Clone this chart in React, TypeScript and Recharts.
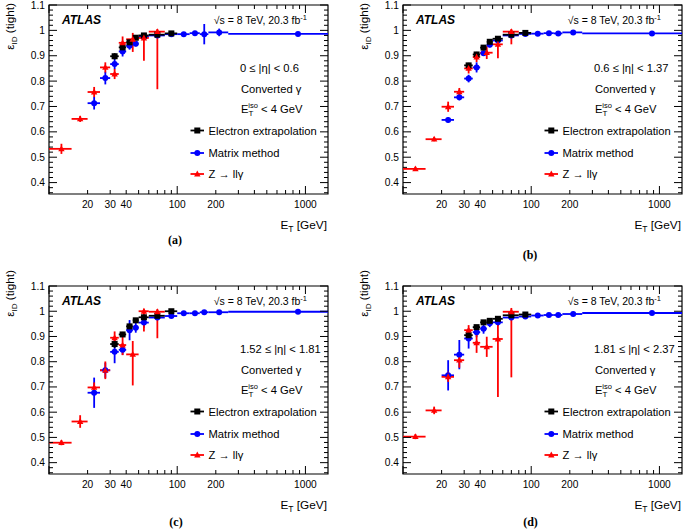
import React from 'react';
import { ScatterChart, Scatter, XAxis, YAxis, ErrorBar, ReferenceArea, Legend } from 'recharts';

const SANS = '"Liberation Sans", Arial, Helvetica, sans-serif';
const SERIF = '"Liberation Serif", "Times New Roman", serif';

const X_MIN = 10;
const X_MAX = 1500;
const Y_MIN = 0.355;
const Y_MAX = 1.1;

// axis ticks
const xTicks = [10, 20, 30, 40, 50, 60, 70, 80, 90, 100, 200, 300, 400, 500, 600, 700, 800, 900, 1000];
const xTickLabels = [20, 30, 40, 100, 200, 1000];
const xDecades = [10, 100, 1000];
const yMajorTicks = [0.4, 0.5, 0.6, 0.7, 0.8, 0.9, 1, 1.1];
const yMinorStep = 0.02;

// E_T bin edges (GeV)
const zBinLo = [10, 15, 20, 25, 30, 35, 40, 50, 60];
const zBinHi = [15, 20, 25, 30, 35, 40, 50, 60, 80];
const mmBinLo = [20, 25, 30, 35, 40, 45, 50, 60, 80, 100, 125, 150, 175, 250];
const mmBinHi = [25, 30, 35, 40, 45, 50, 60, 80, 100, 125, 150, 175, 250, 1500];
const eeBinLo = [30, 35, 40, 45, 50, 60, 80];
const eeBinHi = [35, 40, 45, 50, 60, 80, 100];

// (a) 0 <= |eta| < 0.6
const aZ = [0.533, 0.651, 0.757, 0.854, 0.828, 0.951, 0.965, 0.97, 0.995];
const aZDn = [0.02, 0.012, 0.02, 0.02, 0.02, 0.025, 0.05, 0.09, 0.227];
const aZUp = [0.02, 0.012, 0.02, 0.02, 0.02, 0.025, 0.025, 0.02, 0.01];
const aMM = [0.713, 0.812, 0.867, 0.917, 0.939, 0.947, 0.975, 0.98, 0.985, 0.985, 0.989, 0.985, 0.992, 0.986];
const aMMErr = [0.025, 0.025, 0.02, 0.02, 0.015, 0.01, 0.01, 0.01, 0.005, 0.005, 0.005, 0.04, 0.015, 0.006];
const aEE = [0.898, 0.933, 0.953, 0.971, 0.98, 0.983, 0.988];
const aEEErr = [0.012, 0.01, 0.008, 0.006, 0.005, 0.005, 0.004];

// (b) 0.6 <= |eta| < 1.37
const bZ = [0.454, 0.571, 0.699, 0.758, 0.85, 0.895, 0.912, 0.945, 0.995];
const bZDn = [0.008, 0.008, 0.02, 0.015, 0.02, 0.02, 0.025, 0.055, 0.05];
const bZUp = [0.008, 0.008, 0.02, 0.015, 0.02, 0.02, 0.025, 0.02, 0.01];
const bMM = [0.647, 0.736, 0.81, 0.854, 0.91, 0.943, 0.96, 0.98, 0.986, 0.987, 0.989, 0.988, 0.992, 0.988];
const bMMErr = [0.01, 0.012, 0.015, 0.02, 0.01, 0.01, 0.008, 0.006, 0.005, 0.005, 0.005, 0.005, 0.006, 0.005];
const bEE = [0.862, 0.905, 0.932, 0.955, 0.967, 0.983, 0.99];
const bEEErr = [0.01, 0.01, 0.008, 0.006, 0.005, 0.005, 0.004];

// (c) 1.52 <= |eta| < 1.81
const cZ = [0.479, 0.563, 0.698, 0.766, 0.895, 0.866, 0.829, 1.0, 0.998];
const cZDn = [0.01, 0.025, 0.02, 0.035, 0.025, 0.04, 0.123, 0.08, 0.105];
const cZUp = [0.01, 0.025, 0.02, 0.035, 0.025, 0.04, 0.053, 0.01, 0.01];
const cMM = [0.677, 0.766, 0.839, 0.847, 0.925, 0.935, 0.955, 0.975, 0.981, 0.992, 0.992, 0.996, 0.996, 0.998];
const cMMErr = [0.06, 0.03, 0.045, 0.02, 0.04, 0.02, 0.02, 0.01, 0.008, 0.005, 0.005, 0.005, 0.005, 0.005];
const cEE = [0.87, 0.908, 0.94, 0.964, 0.976, 0.982, 1.0];
const cEEErr = [0.015, 0.01, 0.01, 0.008, 0.006, 0.005, 0.005];

// (d) 1.81 <= |eta| < 2.37
const dZ = [0.503, 0.607, 0.74, 0.806, 0.925, 0.875, 0.859, 0.89, 0.998];
const dZDn = [0.01, 0.015, 0.02, 0.03, 0.02, 0.04, 0.04, 0.23, 0.26];
const dZUp = [0.01, 0.015, 0.02, 0.03, 0.02, 0.04, 0.04, 0.09, 0.015];
const dMM = [0.746, 0.828, 0.892, 0.917, 0.931, 0.952, 0.956, 0.975, 0.979, 0.983, 0.985, 0.985, 0.989, 0.993];
const dMMErr = [0.06, 0.058, 0.04, 0.02, 0.02, 0.015, 0.015, 0.01, 0.006, 0.005, 0.005, 0.005, 0.005, 0.005];
const dEE = [0.905, 0.937, 0.956, 0.962, 0.97, 0.984, 0.987];
const dEEErr = [0.01, 0.008, 0.006, 0.006, 0.005, 0.005, 0.004];

const COL_EE = '#000000';
const COL_MM = '#0000ff';
const COL_Z = '#ff0000';
const ERR_W = 1.8;

type Pt = { x: number; y: number; ex: number[]; ey: number[] };

function buildPoints(lo: number[], hi: number[], val: number[], dn: number[], up: number[]): Pt[] {
  return val.map((v, i) => {
    const c = (lo[i] + hi[i]) / 2;
    return { x: c, y: v, ex: [c - lo[i], hi[i] - c], ey: [dn[i], up[i]] };
  });
}

const yAllTicks: number[] = (() => {
  const out: number[] = [];
  for (let k = 18; k <= 55; k++) out.push(Math.round(k * yMinorStep * 1000) / 1000);
  return out;
})();

const panels = [
  {
    id: 'a', left: 0, top: 0, W: 345, H: 262, pl: 49, pt: 5, pw: 279, ph: 189, yTitleTop: 3,
    eta: '0 ≤ |η| < 0.6', caption: '(a)', capX: 175, capY: 243.5,
    z: buildPoints(zBinLo, zBinHi, aZ, aZDn, aZUp),
    mm: buildPoints(mmBinLo, mmBinHi, aMM, aMMErr, aMMErr),
    ee: buildPoints(eeBinLo, eeBinHi, aEE, aEEErr, aEEErr),
  },
  {
    id: 'b', left: 340, top: 0, W: 345, H: 262, pl: 63, pt: 5, pw: 279, ph: 189, yTitleTop: 3,
    eta: '0.6 ≤ |η| < 1.37', caption: '(b)', capX: 190, capY: 259,
    z: buildPoints(zBinLo, zBinHi, bZ, bZDn, bZUp),
    mm: buildPoints(mmBinLo, mmBinHi, bMM, bMMErr, bMMErr),
    ee: buildPoints(eeBinLo, eeBinHi, bEE, bEEErr, bEEErr),
  },
  {
    id: 'c', left: 0, top: 266, W: 345, H: 263, pl: 49, pt: 20, pw: 279, ph: 188, yTitleTop: 4,
    eta: '1.52 ≤ |η| < 1.81', caption: '(c)', capX: 176, capY: 259.5,
    z: buildPoints(zBinLo, zBinHi, cZ, cZDn, cZUp),
    mm: buildPoints(mmBinLo, mmBinHi, cMM, cMMErr, cMMErr),
    ee: buildPoints(eeBinLo, eeBinHi, cEE, cEEErr, cEEErr),
  },
  {
    id: 'd', left: 340, top: 266, W: 345, H: 263, pl: 63, pt: 20, pw: 279, ph: 188, yTitleTop: 4,
    eta: '1.81 ≤ |η| < 2.37', caption: '(d)', capX: 190.5, capY: 260,
    z: buildPoints(zBinLo, zBinHi, dZ, dZDn, dZUp),
    mm: buildPoints(mmBinLo, mmBinHi, dMM, dMMErr, dMMErr),
    ee: buildPoints(eeBinLo, eeBinHi, dEE, dEEErr, dEEErr),
  },
];

const SquareShape = (props: any) => (
  <rect x={props.cx - 3} y={props.cy - 3} width={6} height={6} fill={COL_EE} />
);
const CircleShape = (props: any) => <circle cx={props.cx} cy={props.cy} r={3} fill={COL_MM} />;
const TriangleShape = (props: any) => (
  <polygon
    points={`${props.cx},${props.cy - 3.4} ${props.cx - 3.2},${props.cy + 2.4} ${props.cx + 3.2},${props.cy + 2.4}`}
    fill={COL_Z}
  />
);

function LegendBox() {
  const rows = [
    { label: 'Electron extrapolation', color: COL_EE, kind: 'sq', y: 10.5 },
    { label: 'Matrix method', color: COL_MM, kind: 'ci', y: 33 },
    { label: 'Z → llγ', color: COL_Z, kind: 'tr', y: 54 },
  ];
  return (
    <svg width={170} height={66} style={{ display: 'block' }}>
      {rows.map((r) => (
        <g key={r.label}>
          <line x1={1.5} x2={15} y1={r.y} y2={r.y} stroke={r.color} strokeWidth={ERR_W} />
          {r.kind === 'sq' && <SquareShape cx={8.3} cy={r.y} />}
          {r.kind === 'ci' && <CircleShape cx={8.3} cy={r.y} />}
          {r.kind === 'tr' && <TriangleShape cx={8.3} cy={r.y} />}
          <text x={19.5} y={r.y + 4} fontFamily={SANS} fontSize={11.2} fill="#000">
            {r.label}
          </text>
        </g>
      ))}
    </svg>
  );
}

function Panel({ p }: { p: (typeof panels)[number] }) {
  const pr = p.pl + p.pw;
  const pb = p.pt + p.ph;
  const xAxisH = p.H - pb;

  const renderXTick = (props: any) => {
    const x = props.x;
    const v = props.payload.value;
    const len = xDecades.includes(v) ? 8 : 4;
    const lab = xTickLabels.includes(v);
    return (
      <g>
        <line x1={x} x2={x} y1={pb} y2={pb - len} stroke="#000" strokeWidth={1} />
        <line x1={x} x2={x} y1={p.pt} y2={p.pt + len} stroke="#000" strokeWidth={1} />
        {lab && (
          <text x={x} y={pb + 13.5} textAnchor="middle" fontFamily={SANS} fontSize={10.2} fill="#000">
            {String(v)}
          </text>
        )}
      </g>
    );
  };

  const renderYTick = (props: any) => {
    const y = props.y;
    const v = props.payload.value;
    const major = yMajorTicks.some((m) => Math.abs(m - v) < 1e-6);
    const len = major ? 8 : 4;
    return (
      <g>
        <line x1={p.pl} x2={p.pl + len} y1={y} y2={y} stroke="#000" strokeWidth={1} />
        <line x1={pr} x2={pr - len} y1={y} y2={y} stroke="#000" strokeWidth={1} />
        {major && (
          <text x={p.pl - 4} y={y + 3.5} textAnchor="end" fontFamily={SANS} fontSize={10.2} fill="#000">
            {String(Math.round(v * 10) / 10)}
          </text>
        )}
      </g>
    );
  };

  return (
    <div style={{ position: 'absolute', left: p.left, top: p.top, width: p.W, height: p.H }}>
      <ScatterChart
        width={p.W}
        height={p.H}
        margin={{ top: p.pt, right: p.W - pr, bottom: 0, left: 0 }}
      >
        <XAxis
          type="number"
          dataKey="x"
          scale="log"
          domain={[X_MIN, X_MAX]}
          allowDataOverflow
          ticks={xTicks}
          interval={0}
          tick={renderXTick}
          tickLine={false}
          axisLine={false}
          tickSize={0}
          tickMargin={0}
          height={xAxisH}
        />
        <YAxis
          type="number"
          dataKey="y"
          domain={[Y_MIN, Y_MAX]}
          allowDataOverflow
          ticks={yAllTicks}
          interval={0}
          tick={renderYTick}
          tickLine={false}
          axisLine={false}
          tickSize={0}
          tickMargin={0}
          width={p.pl}
        />
        <ReferenceArea
          x1={X_MIN}
          x2={X_MAX}
          y1={Y_MIN}
          y2={Y_MAX}
          fill="none"
          fillOpacity={0}
          stroke="#000"
          strokeWidth={1.2}
          ifOverflow="visible"
        />
        <Scatter name="Matrix method" data={p.mm} fill={COL_MM} shape={CircleShape} isAnimationActive={false}>
          <ErrorBar dataKey="ex" direction="x" width={0} stroke={COL_MM} strokeWidth={ERR_W} />
          <ErrorBar dataKey="ey" direction="y" width={0} stroke={COL_MM} strokeWidth={ERR_W} />
        </Scatter>
        <Scatter name="Electron extrapolation" data={p.ee} fill={COL_EE} shape={SquareShape} isAnimationActive={false}>
          <ErrorBar dataKey="ex" direction="x" width={0} stroke={COL_EE} strokeWidth={ERR_W} />
          <ErrorBar dataKey="ey" direction="y" width={0} stroke={COL_EE} strokeWidth={ERR_W} />
        </Scatter>
        <Scatter name="Z → llγ" data={p.z} fill={COL_Z} shape={TriangleShape} isAnimationActive={false}>
          <ErrorBar dataKey="ex" direction="x" width={0} stroke={COL_Z} strokeWidth={ERR_W} />
          <ErrorBar dataKey="ey" direction="y" width={0} stroke={COL_Z} strokeWidth={ERR_W} />
        </Scatter>
        <Legend
          layout="vertical"
          align="center"
          verticalAlign="middle"
          wrapperStyle={{ position: 'absolute', left: p.pl + 140, top: p.pt + 115, width: 170, height: 66 }}
          content={() => <LegendBox />}
        />
      </ScatterChart>
      <svg
        width={p.W}
        height={p.H}
        style={{ position: 'absolute', left: 0, top: 0, pointerEvents: 'none' }}
      >
        <text
          transform={`translate(${p.pl - 35.5}, ${p.yTitleTop}) rotate(-90)`}
          textAnchor="end"
          fontFamily={SANS}
          fontSize={11.8}
          fill="#000"
        >
          ε<tspan fontSize={8} dy={3}>ID</tspan>
          <tspan dy={-3}> (tight)</tspan>
        </text>
        <text x={p.pl + 13} y={p.pt + 19} fontFamily={SANS} fontSize={12} fontWeight="bold" fontStyle="italic" fill="#000">
          ATLAS
        </text>
        <text x={p.pl + 258} y={p.pt + 19} textAnchor="end" fontFamily={SANS} fontSize={10.5} fill="#000">
          √s = 8 TeV, 20.3 fb<tspan dy={-4} fontSize={7.5}>-1</tspan>
        </text>
        <text x={p.pl + 191} y={p.pt + 66.5} fontFamily={SANS} fontSize={11.2} fill="#000">
          {p.eta}
        </text>
        <text x={p.pl + 192} y={p.pt + 88} fontFamily={SANS} fontSize={11.2} fill="#000">
          Converted γ
        </text>
        <text x={p.pl + 192} y={p.pt + 108} fontFamily={SANS} fontSize={11.2} fill="#000">
          E<tspan dy={3} fontSize={8}>T</tspan>
          <tspan dx={-5} dy={-8.5} fontSize={7.5}>iso</tspan>
          <tspan dy={5.5}> &lt; 4 GeV</tspan>
        </text>
        <text x={pr - 1} y={pb + 35} textAnchor="end" fontFamily={SANS} fontSize={11.8} fill="#000">
          E<tspan dy={3} fontSize={8.5}>T</tspan>
          <tspan dy={-3}> [GeV]</tspan>
        </text>
        <text x={p.capX} y={p.capY} textAnchor="middle" fontFamily={SERIF} fontSize={12} fontWeight="bold" fill="#000">
          {p.caption}
        </text>
      </svg>
    </div>
  );
}

export default function App() {
  return (
    <div style={{ position: 'absolute', left: 0, top: 0, width: 685, height: 529, overflow: 'hidden', background: '#fff' }}>
      {panels.map((p) => (
        <Panel key={p.id} p={p} />
      ))}
    </div>
  );
}
